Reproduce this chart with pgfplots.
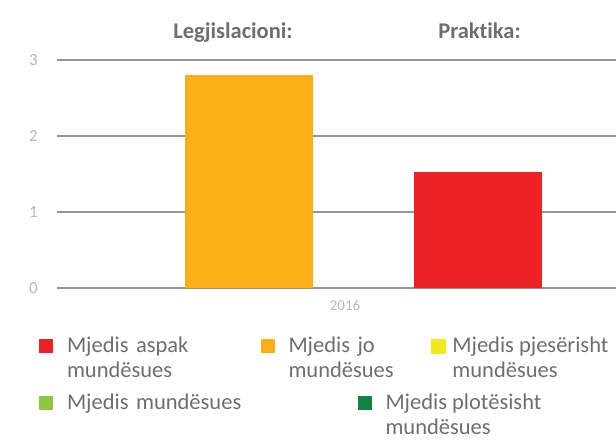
\documentclass[border=0pt]{standalone}
\usepackage{pgfplots}
\pgfplotsset{compat=1.18}
\usepackage{fontspec}
\setmainfont{Carlito}[Ligatures=CommonOff]
\definecolor{cred}{HTML}{ED2224}
\definecolor{corange}{HTML}{FCAF17}
\definecolor{cyellow}{HTML}{F2E81A}
\definecolor{cgreen}{HTML}{8DC63F}
\definecolor{cdgreen}{HTML}{0F8442}
\definecolor{cgrid}{HTML}{939598}
\definecolor{ctext}{HTML}{6D6E71}
\definecolor{ctick}{HTML}{B5B7BA}
\begin{document}
\begin{tikzpicture}
\useasboundingbox (0,0) rectangle (616pt,443pt);
\pgfplotsset{
  mylegend/.style={
    legend image code/.code={\fill[##1] (0pt,-16.3pt) rectangle (14pt,-2.3pt);},
    legend style={draw=none, fill=none, inner sep=0pt, outer sep=0pt,
      column sep=14pt,
      nodes={inner sep=0pt, outer sep=0pt, text=ctext, align=left,
             font=\fontsize{22.5}{25}\selectfont},
      cells={anchor=north west}},
  }
}
\begin{axis}[
  at={(57pt,154.7pt)}, anchor=south west,
  scale only axis, width=559pt, height=228.3pt,
  xmin=-288, xmax=271, ymin=0, ymax=3,
  ytick={0,1,2,3}, xtick={0}, xticklabels={2016},
  axis line style={draw=none}, major tick length=0pt,
  ymajorgrids, grid style={cgrid, line width=1.6pt},
  clip=false,
  ybar, bar shift=0pt, bar width=128.5,
  /pgf/number format/assume math mode=true,
  yticklabel style={font=\fontsize{17}{17}\selectfont, text=ctick, anchor=east, inner sep=0pt, xshift=-19pt},
  xticklabel style={font=\fontsize{15}{15}\selectfont, text=ctick, anchor=north, inner sep=0pt, yshift=-12pt},
  mylegend,
  legend columns=3,
  legend style={at={(axis description cs:-0.0322,-0.2133)}, anchor=north west},
]
\addplot[fill=cred, draw=none] coordinates {(133,1.53)};
\addlegendentry[text width=179.5pt]{Mjedis aspak\\mundësues}
\addplot[fill=corange, draw=none] coordinates {(-96,2.80)};
\addlegendentry[text width=128.5pt]{Mjedis jo\\mundësues}
\addlegendimage{legend image code/.code={\path (0pt,-2.3pt) -- (7pt,-2.3pt); \fill[cyellow, overlay] (0pt,-16.3pt) rectangle (14pt,-2.3pt);}}
\addlegendentry{Mjedis pjesërisht\\mundësues}
\node[anchor=base, font=\bfseries\fontsize{22.5}{22.5}\selectfont, text=ctext, yshift=21pt] at (axis cs:-112,3) {Legjislacioni:};
\node[anchor=base, font=\bfseries\fontsize{22.5}{22.5}\selectfont, text=ctext, yshift=21pt] at (axis cs:134.5,3) {Praktika:};
\end{axis}
\begin{axis}[
  at={(57pt,154.7pt)}, anchor=south west,
  scale only axis, width=559pt, height=228.3pt,
  xmin=-288, xmax=271, ymin=0, ymax=3,
  hide axis,
  mylegend,
  legend columns=2,
  legend style={at={(axis description cs:-0.0322,-0.463)}, anchor=north west},
]
\addlegendimage{fill=cgreen, draw=none}
\addlegendentry[text width=276.5pt]{Mjedis mundësues}
\addlegendimage{fill=cdgreen, draw=none}
\addlegendentry{Mjedis plotësisht\\mundësues}
\end{axis}
\end{tikzpicture}
\end{document}
